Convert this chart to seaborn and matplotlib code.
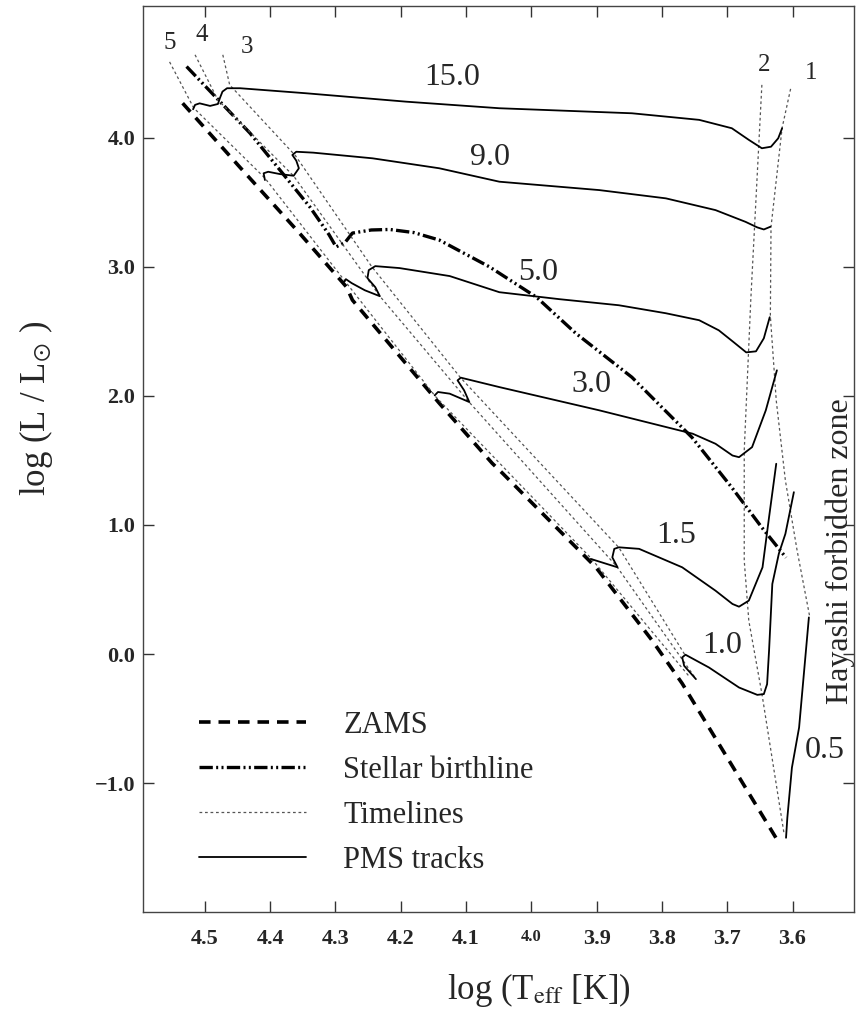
import matplotlib
matplotlib.use("Agg")
import matplotlib.pyplot as plt
import seaborn as sns
import pandas as pd

# ---------------- data (log Teff, log L/Lsun) ----------------
zams_logT = [4.534, 4.4465, 4.355, 4.283, 4.274, 4.141, 4.060, 4.044, 3.901, 3.815, 3.769, 3.6255]
zams_logL = [4.267, 3.772, 3.260, 2.843, 2.742, 1.943, 1.478, 1.400, 0.671, 0.105, -0.228, -1.423]

birth_logT = [4.528, 4.431, 4.339, 4.310, 4.299, 4.285, 4.274, 4.245, 4.217, 4.180, 4.141, 4.064,
              3.992, 3.932, 3.846, 3.754, 3.693, 3.647, 3.610]
birth_logL = [4.551, 4.036, 3.462, 3.250, 3.154, 3.190, 3.261, 3.285, 3.289, 3.265, 3.207, 2.999,
              2.764, 2.485, 2.144, 1.678, 1.290, 0.980, 0.747]

time1_logT = [3.603, 3.616, 3.633, 3.634, 3.625, 3.611, 3.593, 3.574]
time1_logL = [4.378, 4.076, 3.308, 2.618, 1.965, 1.345, 0.801, 0.297]
time2_logT = [3.647, 3.664, 3.674, 3.674, 3.667, 3.647, 3.613]
time2_logL = [4.409, 2.741, 1.577, 0.724, 0.258, -0.306, -1.392]
time3_logT = [4.4725, 4.462, 4.361, 4.245, 4.109, 3.866, 3.764]
time3_logL = [4.642, 4.409, 3.859, 3.005, 2.144, 0.825, -0.013]
time4_logT = [4.515, 4.480, 4.364, 4.232, 4.095, 3.869, 3.748]
time4_logL = [4.642, 4.292, 3.703, 2.772, 1.950, 0.677, -0.192]
time5_logT = [4.554, 4.517, 4.408, 4.283, 4.147, 3.908, 3.759]
time5_logL = [4.587, 4.230, 3.687, 2.873, 1.996, 0.739, -0.169]

trk150_logT = [4.518, 4.515, 4.508, 4.492, 4.480, 4.477, 4.473, 4.466, 4.446, 4.345, 4.192, 4.049,
               3.846, 3.743, 3.693, 3.667, 3.647, 3.633, 3.622, 3.616]
trk150_logL = [4.220, 4.254, 4.266, 4.246, 4.261, 4.306, 4.357, 4.383, 4.383, 4.344, 4.279, 4.228,
               4.189, 4.138, 4.073, 3.983, 3.918, 3.930, 3.995, 4.073]
trk90_logT = [4.408, 4.410, 4.403, 4.385, 4.364, 4.356, 4.360, 4.366, 4.360, 4.334, 4.243, 4.141,
              4.049, 3.896, 3.794, 3.718, 3.672, 3.654, 3.644, 3.634]
trk90_logL = [3.672, 3.724, 3.736, 3.718, 3.705, 3.763, 3.822, 3.866, 3.891, 3.884, 3.840, 3.763,
              3.659, 3.594, 3.530, 3.439, 3.348, 3.305, 3.289, 3.310]
trk50_logT = [4.2875, 4.284, 4.275, 4.255, 4.232, 4.239, 4.251, 4.249, 4.239, 4.202, 4.125, 4.049,
              3.957, 3.866, 3.794, 3.743, 3.713, 3.690, 3.671, 3.656, 3.644, 3.635]
trk50_logL = [2.880, 2.904, 2.873, 2.818, 2.772, 2.842, 2.912, 2.974, 3.005, 2.990, 2.928, 2.803,
              2.749, 2.702, 2.640, 2.586, 2.508, 2.415, 2.337, 2.345, 2.446, 2.609]
trk30_logT = [4.148, 4.143, 4.125, 4.095, 4.103, 4.113, 4.108, 4.049, 3.896, 3.753, 3.718, 3.692,
              3.682, 3.662, 3.641, 3.624]
trk30_logL = [2.004, 2.030, 2.017, 1.952, 2.043, 2.120, 2.141, 2.068, 1.888, 1.707, 1.629, 1.538,
              1.525, 1.603, 1.888, 2.198]
trk15_logT = [3.909, 3.868, 3.876, 3.873, 3.866, 3.835, 3.769, 3.718, 3.692, 3.682, 3.667, 3.646,
              3.636, 3.625]
trk15_logL = [0.737, 0.672, 0.749, 0.815, 0.827, 0.815, 0.672, 0.491, 0.388, 0.367, 0.414, 0.672,
              1.060, 1.474]
trk10_logT = [3.748, 3.766, 3.769, 3.764, 3.728, 3.682, 3.654, 3.644, 3.639, 3.636, 3.631, 3.621,
              3.611, 3.598]
trk10_logL = [-0.194, -0.091, -0.026, -0.005, -0.104, -0.259, -0.316, -0.310, -0.233, 0.026, 0.543,
              0.778, 0.931, 1.254]
trk05_logT = [3.610, 3.608, 3.601, 3.590, 3.575]
trk05_logL = [-1.423, -1.268, -0.880, -0.569, 0.284]

xticks = [4.5, 4.4, 4.3, 4.2, 4.1, 4.0, 3.9, 3.8, 3.7, 3.6]
xtick_labels = ["4.5", "4.4", "4.3", "4.2", "4.1", "4.0", "3.9", "3.8", "3.7", "3.6"]
yticks = [-1.0, 0.0, 1.0, 2.0, 3.0, 4.0]
ytick_labels = ["\u22121.0", "0.0", "1.0", "2.0", "3.0", "4.0"]
track_names = ["15.0", "9.0", "5.0", "3.0", "1.5", "1.0", "0.5"]
timeline_names = ["1", "2", "3", "4", "5"]
legend_labels = ["ZAMS", "Stellar birthline", "Timelines", "PMS tracks"]

# ---------------- style ----------------
sns.set_style("ticks")
plt.rcParams["font.family"] = ["Liberation Serif", "DejaVu Serif"]
plt.rcParams["mathtext.fontset"] = "stix"

fig = plt.figure(figsize=(8.56, 10.16), dpi=100)
ax = fig.add_axes([0.1676, 0.1021, 0.830, 0.892])


def line(xs, ys, **kw):
    df = pd.DataFrame({"x": xs, "y": ys})
    sns.lineplot(data=df, x="x", y="y", sort=False, estimator=None, ax=ax,
                 solid_joinstyle="round", **kw)


ZAMS_LS = (0, (3.2, 2.2))
BIRTH_LS = (0, (4.0, 1.0, 0.6, 1.0, 0.6, 1.0))
TIME_LS = (0, (2.2, 2.2))

line(zams_logT, zams_logL, color="black", lw=2.6, linestyle=ZAMS_LS, label=legend_labels[0])
line(birth_logT, birth_logL, color="black", lw=2.4, linestyle=BIRTH_LS, label=legend_labels[1])
tl = [(time1_logT, time1_logL), (time2_logT, time2_logL), (time3_logT, time3_logL),
      (time4_logT, time4_logL), (time5_logT, time5_logL)]
for i, (tx, ty) in enumerate(tl):
    line(tx, ty, color="#555555", lw=0.9, linestyle=TIME_LS,
         label=legend_labels[2] if i == 0 else "_nolegend_")
tracks = [(trk150_logT, trk150_logL), (trk90_logT, trk90_logL), (trk50_logT, trk50_logL),
          (trk30_logT, trk30_logL), (trk15_logT, trk15_logL), (trk10_logT, trk10_logL),
          (trk05_logT, trk05_logL)]
for i, (tx, ty) in enumerate(tracks):
    line(tx, ty, color="black", lw=1.3, linestyle="-",
         label=legend_labels[3] if i == 0 else "_nolegend_")

ax.set_xlim(4.594, 3.506)
ax.set_ylim(-2.0, 5.02)

ax.set_xticks(xticks)
ax.set_xticklabels(xtick_labels, fontweight="bold", fontsize=16)
ax.set_yticks(yticks)
ax.set_yticklabels(ytick_labels, fontweight="bold", fontsize=16)
ax.get_xticklabels()[5].set_fontsize(12)
ax.tick_params(direction="in", length=8, width=1.0, top=True, right=True, color="#333333")
ax.tick_params(axis="x", pad=12)
ax.tick_params(axis="y", pad=6)
for s in ax.spines.values():
    s.set_linewidth(1.0)
    s.set_color("#444444")

ax.set_xlabel(r"log (T$_{\mathrm{eff}}$ [K])", fontsize=25)
ax.xaxis.set_label_coords(0.557, -0.065)
ax.set_ylabel(r"log (L / L$_{\odot}$ )", fontsize=25)
ax.yaxis.set_label_coords(-0.125, 0.556)

# track labels
track_lab_pos = [(4.121, 4.463), (4.064, 3.850), (3.989, 2.958), (3.908, 2.089),
                 (3.778, 0.918), (3.708, 0.064), (3.551, -0.750)]
for name, (tx, ty) in zip(track_names, track_lab_pos):
    ax.text(tx, ty, name, fontsize=23, ha="center", va="center")
time_lab_pos = [(3.572, 4.502), (3.643, 4.564), (4.436, 4.706), (4.505, 4.797), (4.554, 4.734)]
for name, (tx, ty) in zip(timeline_names, time_lab_pos):
    ax.text(tx, ty, name, fontsize=18, ha="center", va="center")
ax.text(3.527, 0.80, "Hayashi forbidden zone", fontsize=23, rotation=90,
        ha="center", va="center")

ax.legend(loc="upper left", bbox_to_anchor=(0.078, 0.222), frameon=False, fontsize=22,
          handlelength=3.5, handletextpad=1.22, labelspacing=0.52, borderpad=0,
          borderaxespad=0)

fig.savefig("out.png", dpi=100)
